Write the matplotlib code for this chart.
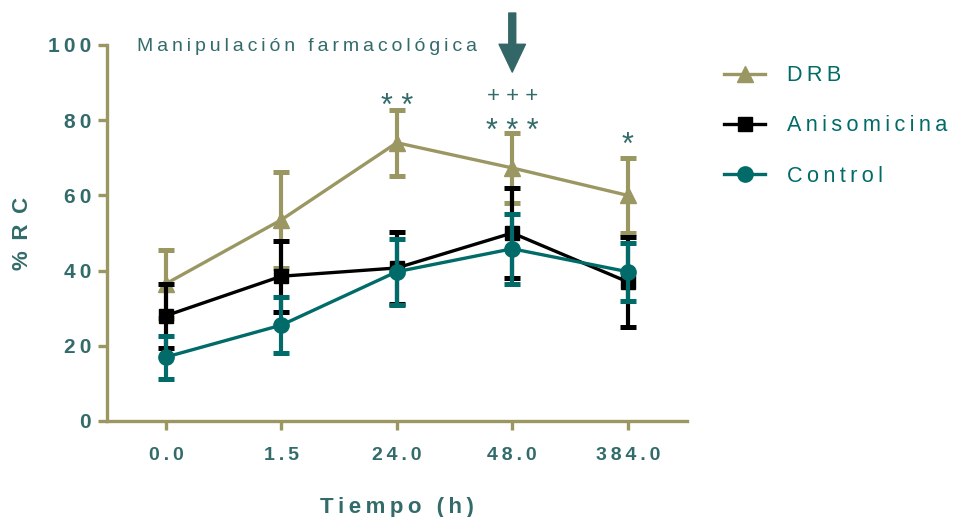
import matplotlib
matplotlib.use("Agg")
import matplotlib.pyplot as plt
from matplotlib.lines import Line2D
import numpy as np

plt.rcParams['font.family'] = ['Liberation Sans', 'DejaVu Sans']

# time points (categorical axis)
tiempos = ["0.0", "1.5", "24.0", "48.0", "384.0"]

# % RC, mean and error per group
drb_mean = [36.5, 53.5, 74.0, 67.3, 60.0]
drb_err = [9.0, 12.8, 8.8, 9.2, 10.0]
aniso_mean = [28.0, 38.5, 40.7, 50.0, 37.0]
aniso_err = [8.5, 9.5, 9.5, 12.0, 12.0]
control_mean = [17.0, 25.5, 39.7, 45.8, 39.7]
control_err = [5.7, 7.4, 8.8, 9.3, 7.7]

# significance marks above groups: (x, y, text, size)
sig_labels = [(2, 83.5, "* *", 22), (3, 76.8, "* * *", 22),
              (3, 86.3, "+ + +", 16), (4, 73.2, "*", 22)]

KHAKI = "#9b9763"
TEAL = "#006b68"
TXT = "#336b6b"
ARROW = "#336666"


def spaced(s):
    # widen letter spacing with thin spaces
    return "\u2009".join(s)


fig = plt.figure(figsize=(9.58, 5.17), dpi=100)
ax = fig.add_axes([0.1117, 0.1857, 0.605, 0.7273])

x = np.arange(len(tiempos))
eb = dict(lw=2.4, capsize=6, capthick=3.6, elinewidth=3)

ax.errorbar(x, drb_mean, yerr=drb_err, color=KHAKI, marker="^", ms=12, zorder=3, **eb)
ax.errorbar(x, aniso_mean, yerr=aniso_err, color="black", marker="s", ms=10, zorder=4, **eb)
ax.errorbar(x, control_mean, yerr=control_err, color=TEAL, marker="o", ms=11, zorder=5, **eb)

ax.set_xlim(-0.51, 4.51)
ax.set_ylim(0, 100)
ax.set_xticks(x)
ax.set_xticklabels([spaced(t) for t in tiempos])
ax.set_yticks([0, 20, 40, 60, 80, 100])
ax.set_yticklabels([spaced(str(v)) for v in [0, 20, 40, 60, 80, 100]])

for s in ["top", "right"]:
    ax.spines[s].set_visible(False)
for s in ["left", "bottom"]:
    ax.spines[s].set_color(KHAKI)
    ax.spines[s].set_linewidth(2.4)
ax.tick_params(axis="both", colors=KHAKI, width=2.4, length=6.5, direction="out")
ax.tick_params(axis="y", labelcolor=TXT, labelsize=15, pad=5)
ax.tick_params(axis="x", labelcolor=TXT, labelsize=14, pad=12)
for lab in ax.get_xticklabels() + ax.get_yticklabels():
    lab.set_fontweight("bold")

ax.set_xlabel(spaced("Tiempo (h)"), fontsize=16, fontweight="bold", color=TXT, labelpad=24)
ax.set_ylabel("%\u2009 R\u2009 C", fontsize=16, fontweight="bold", color=TXT, labelpad=11)

for xi, yi, txt, sz in sig_labels:
    ax.text(xi, yi, txt, ha="center", va="center", fontsize=sz, color=TXT, clip_on=False)

ax.text(-0.25, 99.5, spaced("Manipulación farmacológica"), ha="left", va="center",
        fontsize=14, color=TXT, clip_on=False)

# arrow marking the drug manipulation
ax.annotate("", xy=(3, 92.8), xytext=(3, 108.5), xycoords="data",
            arrowprops=dict(facecolor=ARROW, edgecolor=ARROW, width=5,
                            headwidth=19, headlength=20), annotation_clip=False)

handles = [
    Line2D([], [], color=KHAKI, lw=2.4, marker="^", ms=12),
    Line2D([], [], color="black", lw=2.4, marker="s", ms=10),
    Line2D([], [], color=TEAL, lw=2.4, marker="o", ms=11),
]
labels = [spaced("DRB"), spaced("Anisomicina"), spaced("Control")]
leg = fig.legend(handles, labels, loc="upper left", bbox_to_anchor=(0.756, 0.874),
                 frameon=False, fontsize=15.6, handlelength=1.9, labelspacing=1.35,
                 borderaxespad=0, borderpad=0, handletextpad=1.0)
for t in leg.get_texts():
    t.set_color(TEAL)

fig.savefig("out.png", dpi=100)
